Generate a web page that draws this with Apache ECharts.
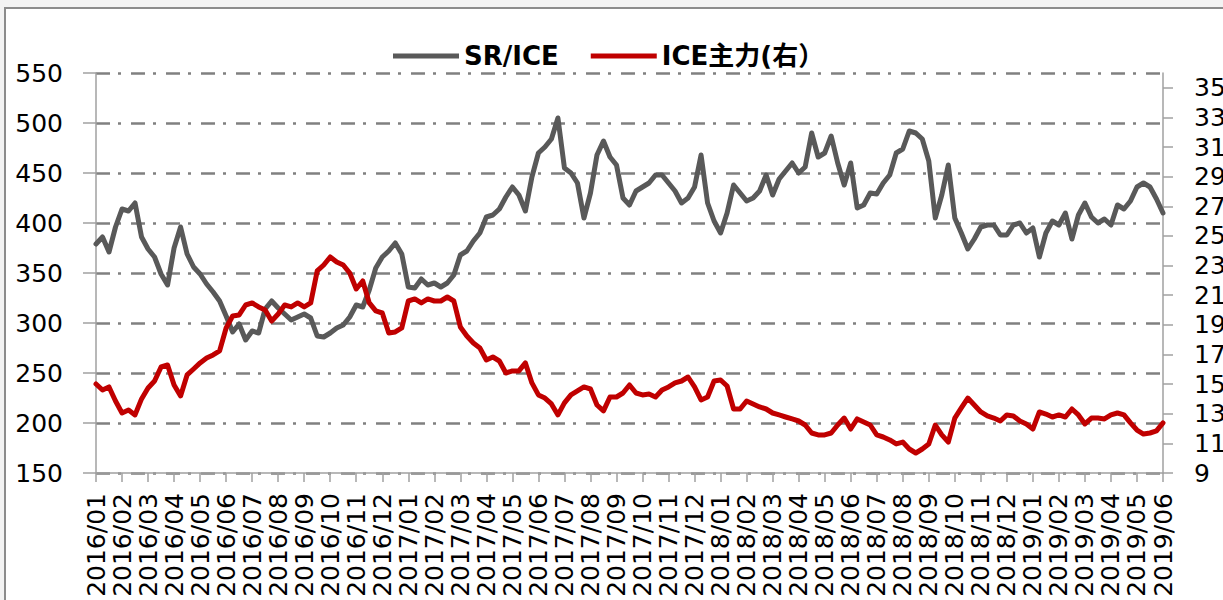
<!DOCTYPE html>
<html>
<head>
<meta charset="utf-8">
<script src="https://cdn.jsdelivr.net/npm/echarts@6/dist/echarts.min.js"></script>
<style>
  html, body { margin: 0; padding: 0; background: #f3f3f3; overflow: hidden; }
  #frame { position: absolute; left: 4px; top: 7px; width: 1400px; height: 800px; border: 2px solid #8c8c8c; background: #fff; }
  #chart { position: absolute; left: 0; top: 0; width: 1223px; height: 600px; }
</style>
</head>
<body>
<div id="frame"></div>
<div id="chart"></div>
<script>
// month labels on the x axis, 4 samples per month
const MONTHS = [
  '2016/01','2016/02','2016/03','2016/04','2016/05','2016/06','2016/07','2016/08','2016/09','2016/10','2016/11','2016/12',
  '2017/01','2017/02','2017/03','2017/04','2017/05','2017/06','2017/07','2017/08','2017/09','2017/10','2017/11','2017/12',
  '2018/01','2018/02','2018/03','2018/04','2018/05','2018/06','2018/07','2018/08','2018/09','2018/10','2018/11','2018/12',
  '2019/01','2019/02','2019/03','2019/04','2019/05','2019/06'
];
const PER_MONTH = 4;

// SR/ICE ratio (left axis)
const SR_ICE = [
  379,386,371,396,414,412,420,386,374,366,349,338,375,396,369,356,349,339,331,322,307,291,299,283,292,
  290,314,322,315,309,303,306,309,305,287,286,290,295,298,306,318,316,333,355,366,372,380,369,336,
  335,344,338,340,336,340,348,368,372,382,390,406,408,414,426,436,428,412,446,470,476,484,505,455,
  450,440,405,430,468,482,466,458,425,418,432,436,440,448,448,440,432,420,425,436,468,420,402,390,
  410,438,430,422,425,432,448,428,444,452,460,450,456,490,466,470,487,460,438,460,415,418,430,429,
  440,448,470,474,492,490,484,462,405,428,458,405,390,374,384,396,398,398,388,388,398,400,390,395,
  366,390,402,398,410,384,408,420,406,400,404,398,418,414,422,436,440,436,424,410
];

// ICE front month (right axis)
const ICE_MAIN = [
  15.01,14.60,14.81,13.86,13.05,13.25,12.92,14.00,14.74,15.21,16.16,16.29,14.94,14.20,15.62,16.02,16.43,16.76,16.97,17.24,18.79,19.60,19.67,20.34,20.48,
  20.21,20.00,19.26,19.73,20.34,20.21,20.48,20.21,20.48,22.64,23.04,23.58,23.24,23.04,22.50,21.42,21.96,20.48,19.94,19.80,18.45,18.52,18.79,20.61,
  20.75,20.48,20.75,20.61,20.61,20.88,20.61,18.86,18.25,17.78,17.44,16.63,16.83,16.56,15.75,15.89,15.89,16.43,15.08,14.27,14.06,13.66,12.92,13.73,
  14.27,14.54,14.81,14.67,13.59,13.19,14.13,14.13,14.40,14.94,14.40,14.27,14.33,14.13,14.60,14.81,15.08,15.21,15.48,14.81,13.93,14.13,15.21,15.28,
  14.87,13.32,13.32,13.86,13.66,13.46,13.32,13.05,12.92,12.78,12.65,12.51,12.24,11.70,11.57,11.57,11.70,12.24,12.71,11.97,12.65,12.44,12.24,11.57,
  11.43,11.23,10.96,11.09,10.62,10.35,10.62,10.96,12.24,11.57,11.09,12.71,13.39,14.06,13.59,13.12,12.85,12.71,12.51,12.92,12.85,12.51,12.31,11.97,
  13.12,12.98,12.78,12.92,12.78,13.32,12.92,12.31,12.71,12.71,12.65,12.92,13.05,12.92,12.38,11.90,11.63,11.70,11.84,12.38
];

const RIGHT_TICKS = [9, 11, 13, 15, 17, 19, 21, 23, 25, 27, 29, 31, 33, 35];

const FONT = "'DejaVu Sans', 'Noto Sans CJK SC', sans-serif";
const AXIS_GREY = '#a0a0a0';
const GRID_GREY = '#808080';

// svg renderer: dashed strokes did not show up with canvas here
const chart = echarts.init(document.getElementById('chart'), null, { renderer: 'svg' });

const toPoints = (arr) => arr.map((v, i) => [i / PER_MONTH, v]);

chart.setOption({
  animation: false,
  backgroundColor: 'transparent',
  legend: {
    left: 388,
    top: 38,
    icon: 'rect',
    itemWidth: 66,
    itemHeight: 5,
    itemGap: 32,
    textStyle: { fontFamily: FONT, fontSize: 26, fontWeight: 'bold', color: '#000' },
    data: ['SR/ICE', 'ICE主力(右）']
  },
  grid: { left: 96, right: 60, top: 73, bottom: 127, outerBoundsMode: 'none' },
  xAxis: {
    type: 'value',
    min: 0,
    max: MONTHS.length - 1,
    interval: 1,
    axisLine: { lineStyle: { color: AXIS_GREY, width: 1.5 } },
    axisTick: { length: 9, lineStyle: { color: AXIS_GREY, width: 1.5 } },
    axisLabel: {
      rotate: 90,
      margin: 20,
      fontFamily: FONT,
      fontSize: 25,
      color: '#000',
      formatter: (v) => MONTHS[v] || ''
    },
    splitLine: { show: false }
  },
  yAxis: [
    {
      type: 'value',
      min: 150,
      max: 550,
      interval: 50,
      axisLine: { show: true, lineStyle: { color: AXIS_GREY, width: 1.5 } },
      axisTick: { show: true, length: 13, lineStyle: { color: AXIS_GREY, width: 1.5 } },
      axisLabel: { margin: 33, fontFamily: FONT, fontSize: 25, color: '#000' },
      splitLine: { show: true, lineStyle: { color: GRID_GREY, width: 2.5, type: [14, 8, 3, 10] } }
    },
    {
      type: 'value',
      min: 9,
      max: 36,
      position: 'right',
      axisLine: { show: true, lineStyle: { color: AXIS_GREY, width: 1.5 } },
      axisTick: { show: true, length: 10, customValues: RIGHT_TICKS, lineStyle: { color: AXIS_GREY, width: 1.5 } },
      axisLabel: { margin: 31, fontFamily: FONT, fontSize: 25, color: '#000', customValues: RIGHT_TICKS },
      splitLine: { show: false }
    }
  ],
  series: [
    {
      name: 'SR/ICE',
      type: 'line',
      yAxisIndex: 0,
      showSymbol: false,
      color: '#595959',
      itemStyle: { color: '#595959' },
      lineStyle: { color: '#595959', width: 5, cap: 'round', join: 'round' },
      data: toPoints(SR_ICE),
      z: 2
    },
    {
      name: 'ICE主力(右）',
      type: 'line',
      yAxisIndex: 1,
      showSymbol: false,
      color: '#c00000',
      itemStyle: { color: '#c00000' },
      lineStyle: { color: '#c00000', width: 5, cap: 'round', join: 'round' },
      data: toPoints(ICE_MAIN),
      z: 3
    }
  ]
});

window.addEventListener('resize', () => chart.resize());
</script>
</body>
</html>
